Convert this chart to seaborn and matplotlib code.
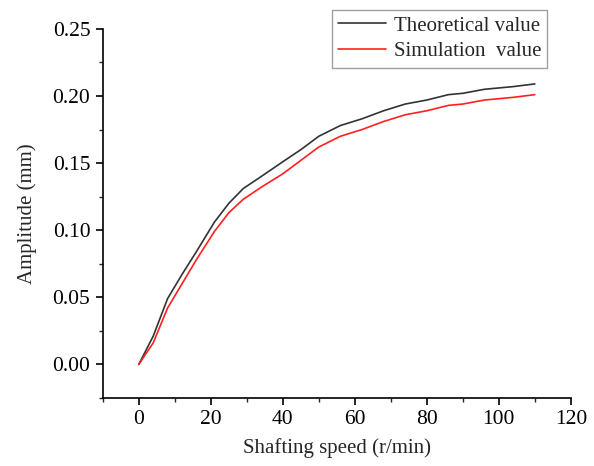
import numpy as np
import pandas as pd
import seaborn as sns
import matplotlib
matplotlib.use("Agg")
import matplotlib.pyplot as plt

# data
speed = [0, 4, 8, 12, 16, 21, 25, 29, 34, 40, 45, 50, 56, 62, 68, 74, 80, 86, 90, 96, 104, 110]
theoretical = [0.000, 0.021, 0.049, 0.067, 0.084, 0.106, 0.120, 0.131, 0.140, 0.151, 0.160, 0.170,
               0.178, 0.183, 0.189, 0.194, 0.197, 0.201, 0.202, 0.205, 0.207, 0.209]
simulation = [0.000, 0.016, 0.042, 0.060, 0.078, 0.099, 0.113, 0.123, 0.132, 0.142, 0.152, 0.162,
              0.170, 0.175, 0.181, 0.186, 0.189, 0.193, 0.194, 0.197, 0.199, 0.201]

df = pd.DataFrame({
    "speed": speed * 2,
    "amp": theoretical + simulation,
    "series": ["Theoretical value"] * len(speed) + ["Simulation  value"] * len(speed),
})

sns.set_style("ticks")
plt.rcParams["font.family"] = ["Liberation Serif", "DejaVu Serif"]

fig = plt.figure(figsize=(5.94, 4.66), dpi=100)
ax = fig.add_axes([0.173, 0.146, 0.788, 0.792])

sns.lineplot(data=df, x="speed", y="amp", hue="series",
             palette={"Theoretical value": "#333333", "Simulation  value": "#ff2020"},
             linewidth=1.2, ax=ax, legend=False)

ax.set_xlim(-10, 120)
ax.set_ylim(-0.025, 0.25)
ax.set_xticks(np.arange(0, 121, 20))
ax.set_xticks(np.arange(-10, 121, 10), minor=True)
ax.set_yticks(np.arange(0, 0.251, 0.05))
ax.set_yticks(np.arange(-0.025, 0.251, 0.025), minor=True)
ax.set_yticklabels([f"{v:.2f}" for v in np.arange(0, 0.251, 0.05)])

for s in ["top", "right"]:
    ax.spines[s].set_visible(False)
for s in ["left", "bottom"]:
    ax.spines[s].set_linewidth(1.2)
    ax.spines[s].set_color("black")

ax.tick_params(axis="both", which="major", direction="out", length=5, width=1.2,
               labelsize=15.5, colors="black", pad=4)
ax.tick_params(axis="both", which="minor", direction="out", length=3, width=1.0)

ax.set_xlabel("Shafting speed (r/min)", fontsize=15, labelpad=6)
ax.set_ylabel("Amplitude (mm)", fontsize=15, labelpad=11)

handles = [plt.Line2D([], [], color="#333333", lw=1.2),
           plt.Line2D([], [], color="#ff2020", lw=1.2)]
leg = fig.legend(handles, ["Theoretical value", "Simulation  value"],
                 loc="upper left", bbox_to_anchor=(0.559, 0.979), fontsize=15,
                 frameon=True, fancybox=False, handlelength=2.3, handletextpad=0.35,
                 borderpad=0.3, labelspacing=0.3, borderaxespad=0)
leg.get_frame().set_edgecolor("#888888")
leg.get_frame().set_linewidth(1.0)

fig.savefig("out.png", dpi=100)
